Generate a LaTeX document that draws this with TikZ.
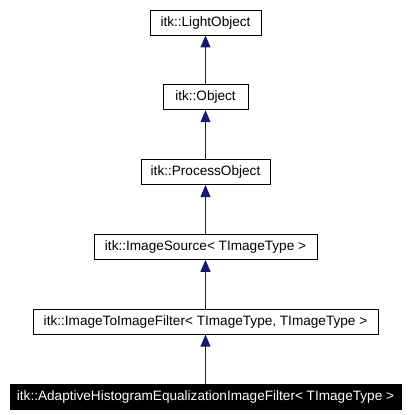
\documentclass[tikz,border=0pt]{standalone}
\usepackage{fontspec}
\setmainfont{Liberation Sans}
\usetikzlibrary{arrows.meta,positioning}
\definecolor{edgenavy}{RGB}{25,25,112}

\begin{document}
\begin{tikzpicture}[
    x=0.75pt, y=0.75pt,
    node distance=36.75pt,
    classbox/.style={draw=black, fill=white, line width=0.6pt, minimum height=18.75pt, inner sep=2pt, font=\fontsize{10.2}{12}\selectfont},
    thisbox/.style={classbox, fill=black, text=white},
    inherit/.style={draw=edgenavy, line width=0.75pt, -{Triangle[length=9pt,width=7.5pt,fill=edgenavy]}}
  ]
  \useasboundingbox (0,0) rectangle (410,-415);

  % base classes
  \node[classbox, minimum width=83.25pt] (lightobj) at (205.5,-22.5) {itk::LightObject};
  \node[classbox, minimum width=63.75pt, below=of lightobj] (obj) {itk::Object};
  \node[classbox, minimum width=96.75pt, below=of obj] (procobj) {itk::ProcessObject};
  \node[classbox, minimum width=167.25pt, below=of procobj] (imgsrc) {itk::ImageSource< TImageType >};
  \node[classbox, minimum width=258.75pt, below=of imgsrc] (img2img) {itk::ImageToImageFilter< TImageType, TImageType >};

  % documented class
  \node[thisbox, minimum width=293.25pt, below=of img2img] (ahe) {itk::AdaptiveHistogramEqualizationImageFilter< TImageType >};

  % inheritance
  \draw[inherit] (obj) -- (lightobj);
  \draw[inherit] (procobj) -- (obj);
  \draw[inherit] (imgsrc) -- (procobj);
  \draw[inherit] (img2img) -- (imgsrc);
  \draw[inherit] (ahe) -- (img2img);
\end{tikzpicture}
\end{document}
